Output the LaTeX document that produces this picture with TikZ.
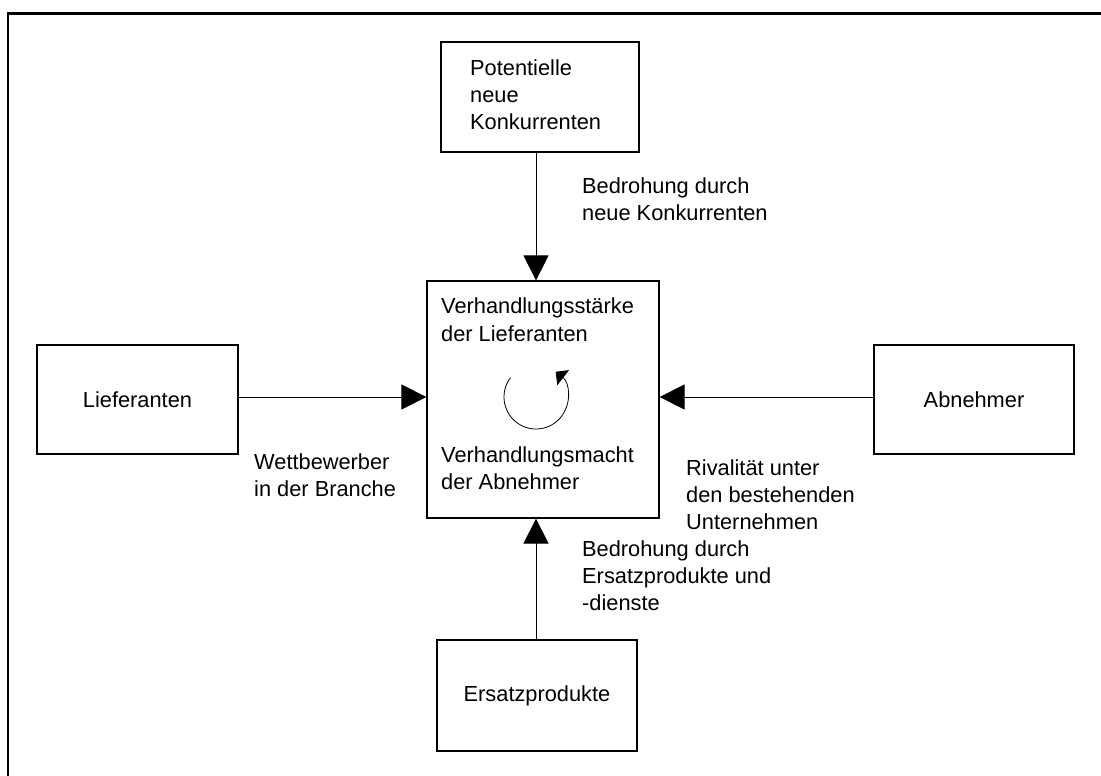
\documentclass[tikz,border=0pt]{standalone}
\usepackage{fontspec}
\setmainfont{Liberation Sans}
\usetikzlibrary{arrows.meta}

\tikzset{
  box/.style={draw, line width=1.2pt, inner sep=0pt, fill=white},
  % multi-line text: the base anchor sits on the baseline of the last line
  label text/.style={anchor=base west, inner sep=0pt, align=left},
  force/.style={line width=0.9pt, -{Triangle[length=25pt, width=25pt]}},
  frame/.style={line width=2.7pt, line join=miter},
}

\begin{document}
\begin{tikzpicture}[x=1pt, y=-1pt, font=\fontsize{21.8}{27}\selectfont]
  \useasboundingbox (0,0) rectangle (1101,776);

  % outer frame (top and left edges)
  \draw[frame] (1101,13.5) -- (8,13.5) -- (8,776);

  % boxes
  \node[box, minimum width=198pt, minimum height=110pt] (entrants) at (540,97) {};
  \node[label text] (entrantsText) at (470,129) {Potentielle\\neue\\Konkurrenten};

  \node[box, minimum width=232pt, minimum height=237pt] (core) at (543,399.5) {};
  \node[label text, font=\fontsize{21.8}{28}\selectfont] (coreTop) at (441,341) {Verhandlungsstärke\\der Lieferanten};
  \node[label text] (coreBottom) at (441,489) {Verhandlungsmacht\\der Abnehmer};

  \node[box, minimum width=201pt, minimum height=109pt] (suppliers) at (137.5,399.5) {Lieferanten};
  \node[box, minimum width=200pt, minimum height=109pt] (buyers) at (974,399.5) {Abnehmer};
  \node[box, minimum width=200pt, minimum height=111pt] (substitutes) at (537,695.5) {Ersatzprodukte};

  % rivalry cycle in the centre (angles count clockwise, since y points down)
  \coordinate (ring) at (536,397);
  \draw[line width=0.8pt, -{Triangle[length=9.5pt, width=19pt]}]
    ([shift={(-143:32)}]ring) arc[start angle=-143, end angle=-412, radius=32];

  % forces acting on the industry
  \draw[force] (entrants.south -| ring) -- (ring |- core.north);
  \draw[force] (suppliers.east |- ring) -- (core.west |- ring);
  \draw[force] (buyers.west |- ring) -- (core.east |- ring);
  \draw[force] (substitutes.north -| ring) -- (ring |- core.south);

  % labels
  \node[label text] (threatNew) at (582,220) {Bedrohung durch\\neue Konkurrenten};
  \node[label text] (competitors) at (254,496) {Wettbewerber\\in der Branche};
  \node[label text] (rivalry) at (686,529) {Rivalität unter\\den bestehenden\\Unternehmen};
  \node[label text] (threatSub) at (582,610) {Bedrohung durch\\Ersatzprodukte und\\-dienste};
\end{tikzpicture}
\end{document}
